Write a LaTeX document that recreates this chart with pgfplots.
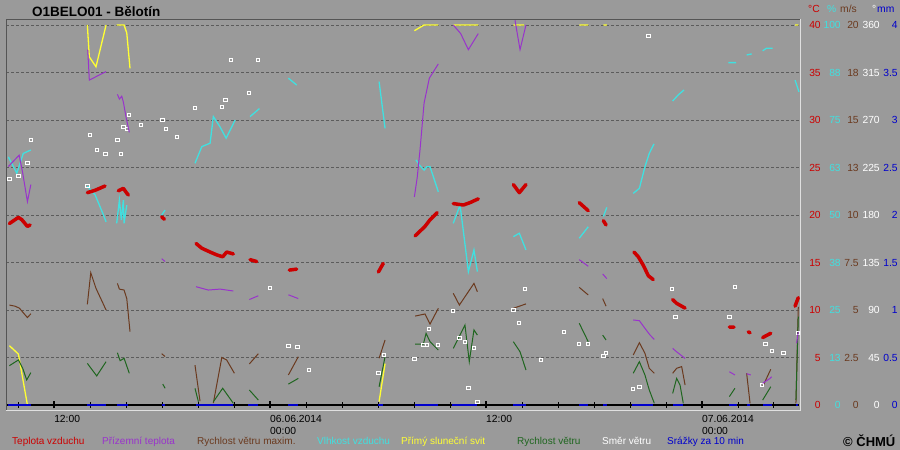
\documentclass[border=0pt]{standalone}
\usepackage{fontspec}
\setmainfont{Liberation Sans}
\usepackage{pgfplots}
\pgfplotsset{compat=1.18}

\definecolor{bg}{HTML}{9A9A9A}
\definecolor{gridc}{HTML}{5C5C5C}
\definecolor{frdark}{HTML}{555555}
\definecolor{frlight}{HTML}{E0E0E0}
\definecolor{tc}{HTML}{CC0000}
\definecolor{ptc}{HTML}{9933CC}
\definecolor{gustc}{HTML}{6B3A1F}
\definecolor{hc}{HTML}{40E0E0}
\definecolor{sunc}{HTML}{FFFF33}
\definecolor{windc}{HTML}{1F661F}
\definecolor{rainc}{HTML}{0000CC}

\newcommand\rowlab[5]{%
  \makebox[14bp][r]{\textcolor{tc}{#1}}%
  \makebox[20bp][r]{\textcolor{hc}{#2}}%
  \makebox[18bp][r]{\textcolor{gustc}{#3}}%
  \makebox[21bp][r]{\textcolor{white}{#4}}%
  \makebox[18bp][r]{\textcolor{rainc}{#5}}}

\pgfplotsset{
  chart/.style={
    at={(6bp,45bp)}, anchor=south west, scale only axis,
    width=793bp, height=385bp,
    xmin=9.33, xmax=53.39, ymin=0,
    clip=false, unbounded coords=jump,
  },
  hidden/.style={chart, hide axis},
}

\begin{document}
\begin{tikzpicture}[x=1bp,y=1bp,
  lab/.style={anchor=base west, inner sep=0pt, font=\fontsize{10.3bp}{12bp}\selectfont},
  leg/.style={lab, font=\fontsize{10bp}{12bp}\selectfont}]
\fill[bg] (0,0) rectangle (900,450);

% main axis: grid, time ticks, right-hand scales
\begin{axis}[chart, ymax=40.526,
  axis x line*=bottom, axis y line*=right,
  x axis line style={black, line width=1.3bp},
  y axis line style={draw=none},
  ytick={0,5,...,40},
  ytick style={draw=none},
  ymajorgrids,
  grid style={gridc, dash pattern=on 3bp off 2bp, line width=0.8bp},
  yticklabels={\rowlab{0}{0}{0}{0}{0},\rowlab{5}{13}{2.5}{45}{0.5},
    \rowlab{10}{25}{5}{90}{1},\rowlab{15}{38}{7.5}{135}{1.5},
    \rowlab{20}{50}{10}{180}{2},\rowlab{25}{63}{13}{225}{2.5},
    \rowlab{30}{75}{15}{270}{3},\rowlab{35}{88}{18}{315}{3.5},
    \rowlab{40}{100}{20}{360}{4}},
  yticklabel style={anchor=west, inner sep=0pt, xshift=4bp,
    font=\fontsize{10.3bp}{12bp}\selectfont},
  xtick={12,24,36,48},
  xticklabels={12:00,06.06.2014\\00:00,12:00,07.06.2014\\00:00},
  minor xtick={10,14,16,18,20,22,26,28,30,32,34,38,40,42,44,46,50,52},
  tick align=center,
  major tick length=7bp, minor tick length=6bp,
  major x tick style={black, line width=2.5bp},
  minor x tick style={black, line width=1bp},
  xticklabel style={anchor=north west, align=left, inner sep=0pt, yshift=-7bp,
    font=\fontsize{10.3bp}{12bp}\selectfont},
]
\addplot[draw=none] coordinates {(10,0)};
\end{axis}

% humidity and sunshine (%)
\begin{axis}[hidden, ymax=101.32]
\addplot[sunc, line width=1.3bp] coordinates {
(9.52,15.6)(10.02,13.4)(10.52,0)(10.6,nan)
(13.85,100)(13.96,91.6)(14.33,89)(14.89,100)(14.9,nan)
(15.48,100)(15.89,100)(16.04,97.9)(16.22,88.6)(16.3,nan)
(30.06,0.9)(30.39,10.9)(30.4,nan)
(32.02,98.5)(32.56,100)(33.35,100)(33.4,nan)
(34.18,100)(35.57,100)(35.6,nan)
(37.52,100)(38.11,100)(38.2,nan)
(41.18,100)(41.68,100)(41.7,nan)
(42.52,100)(42.71,100)(42.8,nan)
(53.17,100)(53.35,100)
};
\addplot[hc, line width=1.3bp] coordinates {
(9.46,65.3)(9.93,61)(10.29,66.2)(10.71,67.1)(10.8,nan)
(13.85,57.6)(14.28,55.3)(14.72,50.3)(14.89,48.2)(14.9,nan)
(15.48,47.8)(15.63,53.9)(15.74,48.7)(15.85,53.9)(15.89,47.8)(16.04,52.6)(16.1,nan)
(17.98,50)(18.17,51.3)(18.2,nan)
(19.83,63.6)(20.21,68)(20.67,68.9)(20.85,75.9)(21.22,73.2)(21.56,70.2)(22.06,75)(22.1,nan)
(22.89,75.9)(23.41,78)(23.5,nan)
(25.02,86)(25.48,84.2)(25.5,nan)
(30.06,85.1)(30.39,72.8)(30.4,nan)
(32.11,64.5)(32.29,63.2)(32.56,61.8)(32.71,62.7)(32.89,62.7)(33.35,56.1)(33.4,nan)
(34.18,47.8)(34.56,52.6)(35.02,35.1)(35.33,40.8)(35.52,35.1)(35.6,nan)
(37.52,44.3)(37.85,45.2)(38.22,40.8)(38.3,nan)
(41.18,43.9)(41.68,46.9)(41.7,nan)
(42.52,49.6)(42.71,52)(42.8,nan)
(44.18,55.7)(44.52,57)(44.83,62.7)(45.07,66.2)(45.33,68.7)(45.4,nan)
(46.37,80)(46.68,81.6)(47.0,82.9)(47.1,nan)
(49.46,90.1)(49.89,90.1)(49.9,nan)
(50.48,92.1)(50.76,92.4)(50.8,nan)
(51.37,93.2)(51.59,93.9)(51.93,93.9)(52,nan)
(53.17,85.5)(53.39,82.4)
};
\end{axis}

% wind gust and wind speed (m/s)
\begin{axis}[hidden, ymax=20.263]
\addplot[gustc, line width=1bp] coordinates {
(9.52,5.26)(9.83,5.2)(10.07,5.1)(10.52,4.6)(10.71,4.8)(10.8,nan)
(13.85,5.3)(14.04,6.96)(14.33,6.14)(14.89,5.0)(14.9,nan)
(15.52,6.4)(15.63,6.1)(15.89,6.05)(16.04,5.6)(16.22,3.86)(16.3,nan)
(17.98,2.7)(18.17,2.55)(18.2,nan)
(19.83,2.1)(20.11,0.2)(20.2,nan)
(20.85,0.1)(21.32,2.5)(21.59,2.37)(22.02,1.67)(22.1,nan)
(22.85,2.16)(23.35,2.7)(23.4,nan)
(25.02,1.58)(25.57,2.54)(25.6,nan)
(30.06,2.46)(30.39,3.42)(30.4,nan)
(32.06,4.68)(32.61,4.79)(32.89,4.26)(33.35,5.09)(33.4,nan)
(34.18,5.88)(34.52,5.26)(35.33,6.4)(35.52,5.96)(35.6,nan)
(37.52,5.09)(38.22,5.32)(38.3,nan)
(41.18,6.19)(41.68,5.79)(41.7,nan)
(42.48,5.6)(42.67,5.2)(42.7,nan)
(44.18,2.63)(44.52,3.28)(44.83,2.72)(45.07,1.93)(45.35,1.67)(45.4,nan)
(46.37,1.67)(46.59,1.93)(46.87,2.02)(47.06,1.05)(47.1,nan)
(50.48,1.67)(50.67,0.09)(50.7,nan)
(51.37,0.96)(51.82,1.88)(51.9,nan)
(53.22,0.09)(53.35,5.17)
};
\addplot[windc, line width=1bp] coordinates {
(9.52,2.07)(10.02,2.37)(10.26,1.93)(10.48,1.32)(10.71,1.7)(10.8,nan)
(13.85,2.19)(14.37,1.53)(14.89,2.28)(14.9,nan)
(15.52,2.75)(15.67,2.33)(15.89,2.46)(16.18,1.67)(16.2,nan)
(18.04,1.1)(18.17,0.88)(18.2,nan)
(19.83,0.88)(20.02,0.17)(20.1,nan)
(20.85,0.17)(21.37,0.88)(21.96,0.09)(22,nan)
(22.85,0.79)(23.35,0.26)(23.4,nan)
(25.02,1.1)(25.57,1.4)(25.6,nan)
(30.06,0.96)(30.39,2.54)(30.4,nan)
(32.06,3.21)(32.52,3.21)(32.67,3.77)(32.89,3.33)(33.35,2.89)(33.4,nan)
(34.18,2.98)(34.83,4.21)(35.07,2.28)(35.33,3.95)(35.52,3.68)(35.6,nan)
(37.52,3.33)(37.89,2.8)(38.22,1.84)(38.3,nan)
(41.18,4.3)(41.68,3.33)(41.7,nan)
(42.48,3.68)(42.67,3.42)(42.7,nan)
(44.18,1.67)(44.52,2.28)(44.83,1.58)(45.07,0.79)(45.35,0.09)(45.4,nan)
(46.37,0.61)(46.59,1.4)(46.78,1.05)(46.96,0.09)(47,nan)
(49.52,0.44)(49.83,0.88)(49.9,nan)
(51.37,0.26)(51.82,0.96)(51.9,nan)
(53.22,0.26)(53.35,4.65)
};
\end{axis}

% wind direction (deg)
\begin{axis}[hidden, ymax=364.74]
\addplot[only marks, mark=square, mark size=1.6bp,
  mark options={draw=white, line width=0.9bp}] coordinates {
(9.52,213.8)(10.02,216.9)(10.52,229.5)(10.71,250.8)(13.85,207.5)(14.0,255.5)
(14.37,241.6)(14.85,237.5)(15.52,251.1)(15.71,237.5)(15.85,263.7)(16.04,261.2)
(16.18,274.5)(16.85,265)(18.02,270)(18.21,261.2)(18.85,253.6)(19.85,281.1)
(21.35,282.6)(21.52,288.7)(21.85,326.6)(22.85,295.6)(23.35,326.6)(24.0,110.6)
(25.02,56.2)(25.52,55.3)(26.18,33.2)(30.02,30)(30.35,47.4)(32.02,43.3)
(32.52,56.6)(32.71,56.6)(32.85,71.7)(33.35,56.6)(34.18,89.1)(34.52,63.2)
(34.83,60)(35.02,15.8)(35.33,53.7)(35.52,2.6)(37.52,90)(37.85,77.4)
(38.18,109.6)(39.04,42.6)(40.35,68.9)(41.18,57.5)(41.68,57.5)(42.52,46.1)
(42.67,49)(44.18,14.9)(44.52,16.8)(45.02,349.6)(46.35,109.6)(46.52,83.1)
(49.52,83.1)(49.85,111.5)(51.35,18.9)(51.52,57.5)(51.87,50.9)(52.52,49)
(53.35,67.9)
};
\end{axis}

% precipitation (mm)
\begin{axis}[hidden, ymax=4.0526]
\addplot[rainc, line width=2bp] coordinates {
(9.46,0)(10.71,0)(10.8,nan)(13.85,0)(14.89,0)(14.9,nan)(15.5,0)(16.13,0)(16.2,nan)
(17.98,0)(18.17,0)(18.2,nan)(19.89,0)(21.96,0)(22,nan)(22.78,0)(23.35,0)(23.4,nan)
(25.0,0)(25.57,0)(25.6,nan)(30.02,0)(30.29,0)(30.3,nan)(32.06,0)(33.35,0)(33.4,nan)
(34.13,0)(35.52,0)(35.6,nan)(37.5,0)(38.22,0)(38.3,nan)(41.18,0)(41.68,0)(41.7,nan)
(42.52,0)(42.71,0)(42.8,nan)(44.11,0)(45.29,0)(45.3,nan)(46.39,0)(46.96,0)(47,nan)
(49.5,0)(49.94,0)(50,nan)(50.5,0)(50.67,0)(50.7,nan)(51.39,0)(51.87,0)(51.9,nan)
(53.22,0)(53.35,0)
};
\end{axis}

% air and ground temperature (deg C)
\begin{axis}[hidden, ymax=40.526]
\addplot[ptc, line width=1bp] coordinates {
(9.46,25.1)(10.06,26.3)(10.26,24.4)(10.52,21.4)(10.71,23.2)(10.8,nan)
(13.87,37.4)(13.96,34.2)(14.89,35.1)(14.9,nan)
(15.52,32.7)(15.63,32.2)(15.76,32.5)(15.85,31.9)(16.0,30.3)(16.18,28.7)(16.2,nan)
(17.98,15.4)(18.17,15.1)(18.2,nan)
(19.89,12.45)(20.57,12.1)(21.22,12.2)(21.96,12.0)(22,nan)
(22.85,11.1)(23.35,11.5)(23.4,nan)
(25.02,11.6)(25.57,11.2)(25.6,nan)
(32.02,21.9)(32.18,24.0)(32.33,26.8)(32.56,31.8)(32.85,34.4)(33.35,35.9)(33.4,nan)
(34.18,40)(34.59,39.1)(35.02,37.4)(35.57,39.1)(35.6,nan)
(37.61,40.5)(37.89,37.4)(38.22,40)(38.3,nan)
(41.18,15.3)(41.68,14.6)(41.7,nan)
(42.48,13.8)(42.71,13.3)(42.8,nan)
(44.18,8.95)(44.52,8.87)(44.83,8.07)(45.11,7.37)(45.35,6.9)(45.4,nan)
(46.37,5.96)(46.59,5.6)(47.06,4.9)(47.1,nan)
(49.52,3.5)(49.83,3.16)(49.9,nan)
(50.48,3.3)(50.71,3.16)(50.8,nan)
(51.37,2.28)(51.78,2.8)(51.87,2.98)(51.9,nan)
(53.26,6.5)(53.35,7.7)
};
\addplot[tc, line width=3.5bp, line cap=round, line join=round] coordinates {
(9.52,19.1)(10.02,19.75)(10.21,19.5)(10.52,18.8)(10.67,18.95)(10.7,nan)
(13.85,22.35)(14.28,22.6)(14.83,23.05)(14.9,nan)
(15.57,22.55)(15.85,22.8)(16.04,22.3)(16.13,22.1)(16.2,nan)
(17.98,19.8)(18.13,19.55)(18.2,nan)
(19.89,17.0)(20.21,16.5)(20.67,16.1)(21.04,15.8)(21.37,15.6)(21.59,16.1)(21.78,16.0)(21.96,15.9)(22,nan)
(22.89,15.3)(23.26,15.1)(23.3,nan)
(25.07,14.2)(25.48,14.3)(25.5,nan)
(30.02,14.0)(30.29,14.9)(30.3,nan)
(32.06,17.8)(32.61,18.8)(32.89,19.5)(33.29,20.25)(33.3,nan)
(34.18,21.2)(34.74,21.05)(35.11,21.3)(35.57,21.7)(35.6,nan)
(37.52,23.2)(37.85,22.35)(38.22,23.2)(38.3,nan)
(41.18,21.3)(41.68,20.45)(41.7,nan)
(42.52,19.4)(42.67,18.95)(42.7,nan)
(44.22,16.1)(44.46,15.6)(44.74,14.7)(45.02,13.6)(45.29,13.2)(45.3,nan)
(46.37,11.1)(46.59,10.7)(47.06,10.2)(47.1,nan)
(49.52,8.2)(49.78,8.2)(49.8,nan)
(50.57,7.7)(50.67,7.6)(50.7,nan)
(51.37,7.1)(51.82,7.55)(51.9,nan)
(53.17,10.4)(53.35,11.3)
};
\end{axis}

% sunken frame
\draw[frdark, line width=1bp] (6.5,40) -- (6.5,430.5) -- (799.5,430.5);
\draw[frlight, line width=1bp] (6,39.5) -- (800,39.5) -- (800,430.5);

% title and headers
\node[lab, font=\fontsize{13.5bp}{15bp}\selectfont\bfseries] at (32,433.3) {O1BELO01 - Bělotín};
\node[lab, text=tc] at (808,437) {°C};
\node[lab, text=hc] at (827,437) {\%};
\node[lab, text=gustc] at (840,437) {m/s};
\node[lab, text=white] at (872,437) {°};
\node[lab, text=rainc] at (877,437) {mm};

% legend
\node[leg, text=tc] at (12,5) {Teplota vzduchu};
\node[leg, text=ptc] at (102,5) {Přízemní teplota};
\node[leg, text=gustc] at (197,5) {Rychlost větru maxim.};
\node[leg, text=hc] at (317,5) {Vlhkost vzduchu};
\node[leg, text=sunc] at (401,5) {Přímý sluneční svit};
\node[leg, text=windc] at (517,5) {Rychlost větru};
\node[leg, text=white] at (602,5) {Směr větru};
\node[leg, text=rainc] at (667,5) {Srážky za 10 min};
\node[lab, font=\fontsize{13bp}{15bp}\selectfont\bfseries] at (843,3) {© ČHMÚ};
\end{tikzpicture}
\end{document}
